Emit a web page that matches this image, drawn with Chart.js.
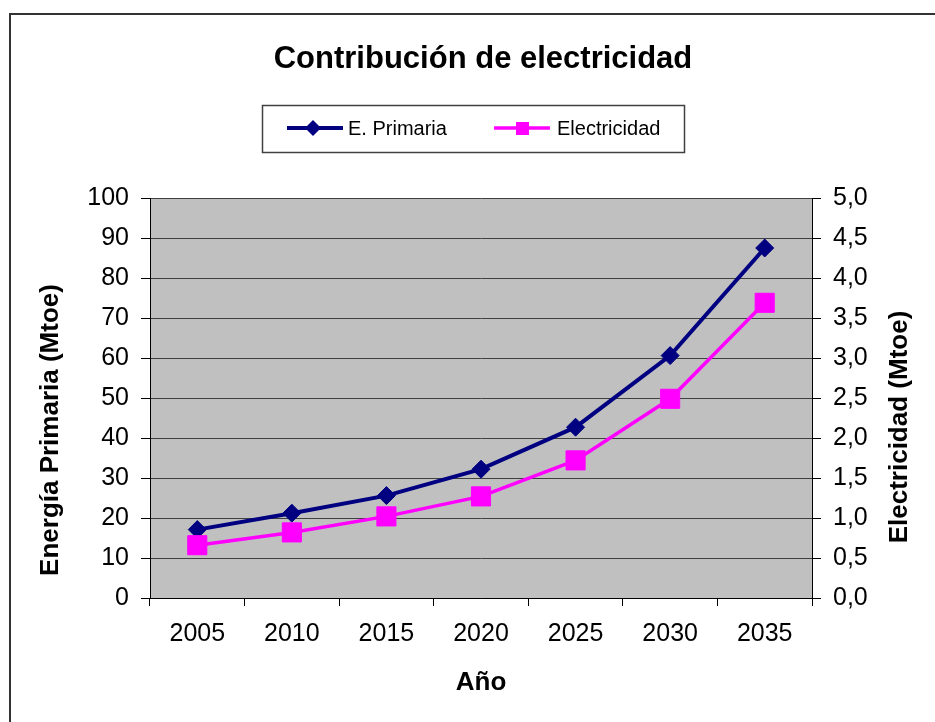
<!DOCTYPE html>
<html>
<head>
<meta charset="utf-8">
<script src="https://cdn.jsdelivr.net/npm/chart.js@4/dist/chart.umd.min.js"></script>
<style>
  html, body { margin: 0; padding: 0; background: #fff; }
  #wrap { width: 935px; height: 722px; position: relative; }
</style>
</head>
<body>
<div id="wrap"><canvas id="myChart"></canvas></div>
<script>
const fontFamily = "'Liberation Sans', Arial, sans-serif";
const navy = "#000080";
const magenta = "#FF00FF";

// data
const years = ["2005", "2010", "2015", "2020", "2025", "2030", "2035"];
const primaria = [17.1, 21.2, 25.6, 32.2, 42.7, 60.6, 87.5];
const electricidad = [0.66, 0.82, 1.02, 1.27, 1.72, 2.49, 3.69];
const leftRange = [0, 100, 10];
const rightRange = [0, 5, 0.5];

// frame, title, legend and axis titles
const decor = {
    id: 'decor',
    beforeDraw(chart) {
        const { ctx, chartArea: { left, top, width, height } } = chart;
        ctx.save();
        ctx.fillStyle = "#fff";
        ctx.fillRect(0, 0, chart.width, chart.height);
        ctx.fillStyle = "#C0C0C0";
        ctx.fillRect(left, top, width, height);
        ctx.restore();
    },
    afterDraw(chart) {
        const ctx = chart.ctx;
        ctx.save();
        // outer frame (runs past the right and bottom edges)
        ctx.strokeStyle = "#333";
        ctx.lineWidth = 2;
        ctx.strokeRect(10, 14, 1000, 1000);

        ctx.fillStyle = "#000";
        ctx.textAlign = 'center';
        ctx.textBaseline = 'alphabetic';
        ctx.font = "bold 31px " + fontFamily;
        ctx.fillText("Contribución de electricidad", 483, 68);

        // legend
        ctx.strokeStyle = "#404040";
        ctx.lineWidth = 1.5;
        ctx.strokeRect(262.5, 105.5, 422, 47);

        ctx.strokeStyle = navy;
        ctx.lineWidth = 4;
        ctx.beginPath();
        ctx.moveTo(287, 128);
        ctx.lineTo(343, 128);
        ctx.stroke();
        ctx.fillStyle = navy;
        ctx.beginPath();
        ctx.moveTo(313, 120);
        ctx.lineTo(321, 128);
        ctx.lineTo(313, 136);
        ctx.lineTo(305, 128);
        ctx.closePath();
        ctx.fill();

        ctx.strokeStyle = magenta;
        ctx.lineWidth = 3.5;
        ctx.beginPath();
        ctx.moveTo(494, 128);
        ctx.lineTo(550, 128);
        ctx.stroke();
        ctx.fillStyle = magenta;
        ctx.fillRect(516, 122, 13, 13);

        ctx.fillStyle = "#000";
        ctx.textAlign = 'left';
        ctx.font = "20px " + fontFamily;
        ctx.fillText("E. Primaria", 348, 135);
        ctx.fillText("Electricidad", 557, 135);

        // axis titles
        ctx.font = "bold 26px " + fontFamily;
        ctx.textAlign = 'center';
        ctx.fillText("Año", 481, 690);

        ctx.save();
        ctx.translate(58, 430);
        ctx.rotate(-Math.PI / 2);
        ctx.fillText("Energía Primaria (Mtoe)", 0, 0);
        ctx.restore();

        ctx.save();
        ctx.translate(907, 427);
        ctx.rotate(-Math.PI / 2);
        ctx.fillText("Electricidad (Mtoe)", 0, 0);
        ctx.restore();

        ctx.restore();
    }
};

const tickFont = { family: fontFamily, size: 25 };

new Chart("myChart", {
    type: "line",
    data: {
        labels: years,
        datasets: [{
            label: "E. Primaria",
            data: primaria,
            yAxisID: 'y',
            order: 1,
            borderColor: navy,
            backgroundColor: navy,
            borderWidth: 4,
            tension: 0,
            pointStyle: 'rectRot',
            pointRadius: 9,
            pointBorderWidth: 1,
            pointBackgroundColor: navy,
            pointBorderColor: navy,
        },
        {
            label: "Electricidad",
            data: electricidad,
            yAxisID: 'y1',
            order: 0,
            borderColor: magenta,
            backgroundColor: magenta,
            borderWidth: 3.5,
            tension: 0,
            pointStyle: 'rect',
            pointRadius: 13.5,
            pointBorderWidth: 1,
            pointBackgroundColor: magenta,
            pointBorderColor: magenta,
        }],
    },
    options: {
        responsive: true,
        maintainAspectRatio: false,
        animation: false,
        layout: {
            padding: { top: 198, left: 0, right: 0, bottom: 0 },
        },
        plugins: {
            legend: { display: false },
            title: { display: false },
            tooltip: { enabled: false },
        },
        scales: {
            x: {
                offset: true,
                afterFit(scale) { scale.height = 124; },
                grid: {
                    offset: true,
                    drawOnChartArea: false,
                    tickLength: 8,
                    tickColor: "#000",
                },
                border: { color: "#000", width: 1 },
                ticks: {
                    font: tickFont,
                    color: "#000",
                    padding: 13,
                    maxRotation: 0,
                },
            },
            y: {
                position: 'left',
                min: leftRange[0],
                max: leftRange[1],
                afterFit(scale) { scale.width = 150; },
                grid: {
                    color: "#404040",
                    lineWidth: 1,
                    tickLength: 9,
                    tickColor: "#000",
                },
                border: { color: "#000", width: 1 },
                ticks: {
                    stepSize: leftRange[2],
                    font: tickFont,
                    color: "#000",
                    padding: 12,
                },
            },
            y1: {
                position: 'right',
                min: rightRange[0],
                max: rightRange[1],
                afterFit(scale) { scale.width = 123; },
                grid: {
                    drawOnChartArea: false,
                    tickLength: 9,
                    tickColor: "#000",
                },
                border: { color: "#000", width: 1 },
                ticks: {
                    stepSize: rightRange[2],
                    font: tickFont,
                    color: "#000",
                    padding: 12,
                    callback: (v) => v.toFixed(1).replace('.', ','),
                },
            },
        },
    },
    plugins: [decor]
});
</script>
</body>
</html>
